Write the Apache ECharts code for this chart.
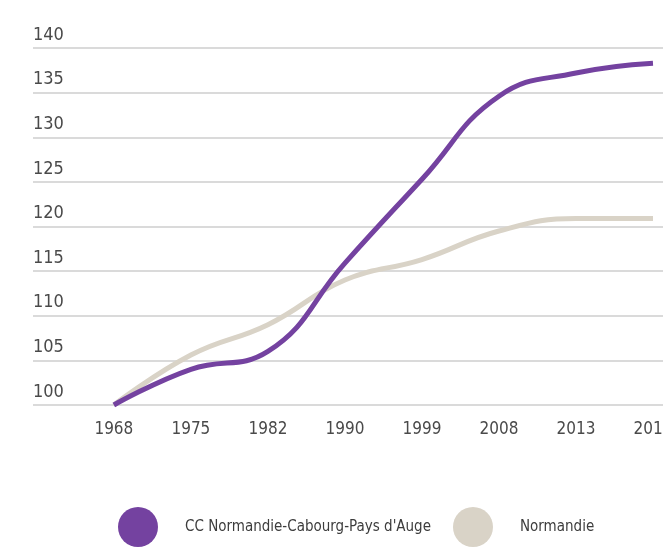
<!DOCTYPE html>
<html>
<head>
<meta charset="utf-8">
<script src="https://cdn.jsdelivr.net/npm/echarts@6/dist/echarts.min.js"></script>
<style>
  html, body { margin: 0; padding: 0; background: #fff; }
  #chart { width: 663px; height: 548px; }
</style>
</head>
<body>
<div id="chart"></div>
<script>
// années (axe x)
var years = ['1968', '1975', '1982', '1990', '1999', '2008', '2013', '2019'];
// indice base 100 en 1968
var ccValues = [100, 104, 106, 115.9, 125.3, 134.6, 137.2, 138.3];
var normandieValues = [100, 105.6, 109, 114, 116.3, 119.5, 120.9, 120.9];
var seriesNames = ['CC Normandie-Cabourg-Pays d\'Auge', 'Normandie'];

var font = '"DejaVu Sans Condensed", "Noto Sans", sans-serif';

function toPoints(values) {
	return values.map(function (v, i) {
		return [i, v];
	});
}

var chart = echarts.init(document.getElementById('chart'));

chart.setOption({
	animation: false,
	grid: {
		left: 33,
		right: 0,
		top: 48,
		bottom: 143,
		containLabel: false,
		outerBoundsMode: 'none'
	},
	legend: {
		left: 113,
		top: 502,
		width: 600,
		icon: 'circle',
		itemWidth: 40,
		itemHeight: 40,
		itemGap: 22,
		textStyle: {
			fontFamily: font,
			fontSize: 15,
			color: '#3c3c3c',
			padding: [0, 0, 0, 22]
		},
		data: seriesNames
	},
	xAxis: {
		type: 'value',
		min: -1.05,
		max: 7.13,
		axisLine: { show: false },
		axisTick: { show: false },
		splitLine: { show: false },
		axisLabel: {
			customValues: [0, 1, 2, 3, 4, 5, 6, 7],
			margin: 16,
			hideOverlap: false,
			fontFamily: font,
			fontSize: 17,
			color: '#4a4a4a',
			formatter: function (v) {
				return years[Math.round(v)];
			}
		}
	},
	yAxis: {
		type: 'value',
		min: 100,
		max: 140,
		interval: 5,
		axisLine: { show: false },
		axisTick: { show: false },
		splitLine: {
			lineStyle: { color: '#dadada', width: 2 }
		},
		axisLabel: {
			inside: true,
			margin: 0,
			align: 'left',
			verticalAlign: 'bottom',
			padding: [0, 0, 4, 0],
			fontFamily: font,
			fontSize: 18,
			color: '#4a4a4a'
		}
	},
	series: [
		{
			name: seriesNames[1],
			type: 'line',
			data: toPoints(normandieValues),
			smooth: 0.45,
			showSymbol: false,
			color: '#d9d3c7',
			lineStyle: { width: 5, color: '#d9d3c7' }
		},
		{
			name: seriesNames[0],
			type: 'line',
			data: toPoints(ccValues),
			smooth: 0.45,
			showSymbol: false,
			color: '#7442a0',
			lineStyle: { width: 5, color: '#7442a0' }
		}
	]
});
</script>
</body>
</html>
